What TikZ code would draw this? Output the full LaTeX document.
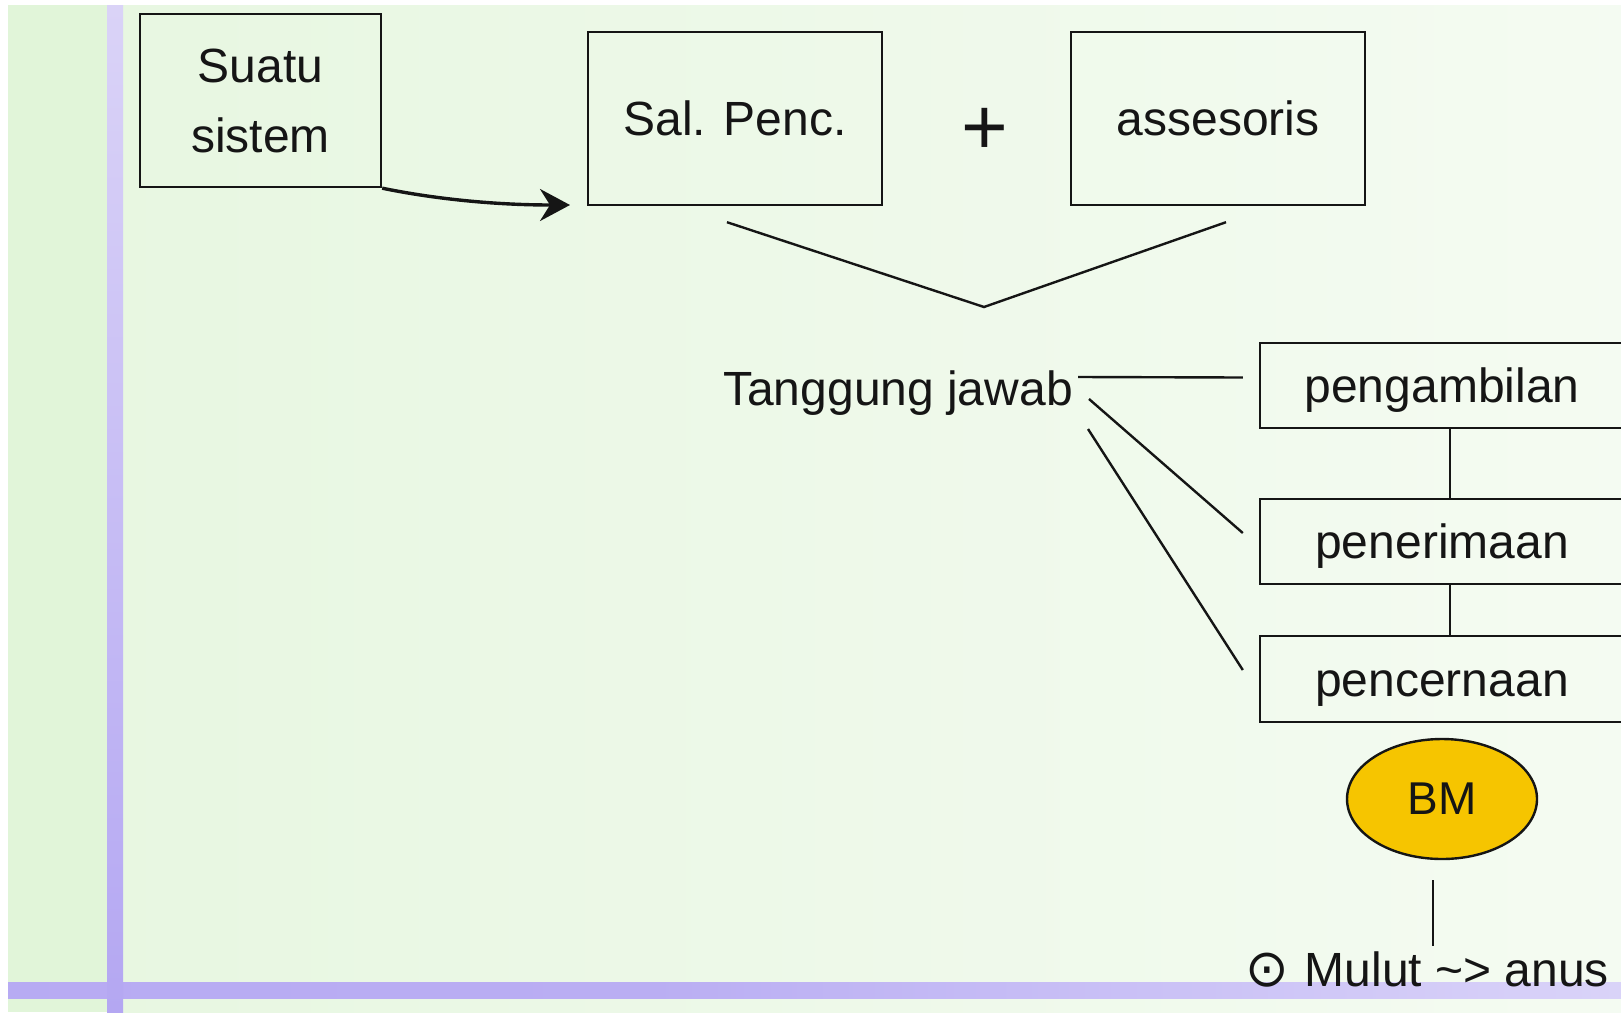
\documentclass[tikz,border=0pt]{standalone}
\usepackage{fontspec}
\setmainfont{Liberation Sans}
\newfontfamily\dejavu{DejaVu Sans}
\usetikzlibrary{shapes.geometric,arrows.meta}
\definecolor{bggreen}{HTML}{E1F5D9}
\definecolor{bgend}{HTML}{FBFDFA}
\definecolor{barA}{HTML}{B4A7F2}
\definecolor{barB}{HTML}{DAD3F7}
\definecolor{bmfill}{HTML}{F6C500}
\definecolor{ink}{HTML}{151515}
\pgfdeclarehorizontalshading{bgshade}{100bp}{color(0bp)=(bggreen); color(100bp)=(bgend)}
\pgfdeclarehorizontalshading{hbarshade}{100bp}{color(0bp)=(barA); color(45bp)=(barA!92!white); color(75bp)=(barA!50!white); color(100bp)=(white)}
\begin{document}
\begin{tikzpicture}[x=1pt,y=-1pt,
  every node/.style={font=\fontsize{48pt}{70pt}\selectfont, text=ink},
  boxbase/.style={draw=ink, line width=2.4pt, rectangle, inner sep=0pt},
  onebox/.style={boxbase, text height=34pt, text depth=0pt},
  link/.style={draw=ink, line width=2.4pt}]
\useasboundingbox (0,0) rectangle (1621,1012);
\clip (0,0) rectangle (1621,1012);
% background
\fill[white] (0,0) rectangle (1621,1012);
\fill[bggreen] (8,5) rectangle (123,1012);
\shade[shading=bgshade] (123,5) rectangle (1621,1012);
\shade[shading=hbarshade] (8,982) rectangle (1621,998);
\shade[top color=barB, bottom color=barA] (107,5) rectangle (123,1012);
% top boxes
\node[boxbase, minimum width=241pt, minimum height=173pt, align=center] (suatu) at (260.5,100.5) {Suatu\\sistem};
\node[onebox, minimum width=294pt, minimum height=173pt] (sal) at (735,118.5) {Sal. Penc.};
\node[onebox, minimum width=294pt, minimum height=173pt] (ass) at (1218,118.5) {assesoris};
\node[inner sep=0pt, font=\fontsize{80pt}{80pt}\selectfont] (plus) at (985,131) {+};
% arrow
\coordinate (arrtip) at (570,205);
\draw[link, line width=3.4pt, -{Stealth[length=30pt,width=32pt,inset=10pt]}] (suatu.south east) .. controls (440,200) and (500,205) .. (arrtip);
% V lines
\coordinate (vapex) at (984,307);
\draw[link] ([xshift=-8pt,yshift=-16pt]sal.south) -- (vapex) -- ([xshift=8pt,yshift=-16pt]ass.south);
% Tanggung jawab
\node[anchor=base, inner sep=0pt] (tj) at (898,405) {Tanggung jawab};
\node[onebox, minimum width=364pt, minimum height=85pt] (peng) at (1442,385.5) {pengambilan};
\node[onebox, minimum width=364pt, minimum height=85pt] (pener) at (1442,541.5) {penerimaan};
\node[onebox, minimum width=364pt, minimum height=86pt] (pencern) at (1442,679) {pencernaan};
\coordinate (t1) at (1078,377);
\coordinate (t2) at (1089,399);
\coordinate (t3) at (1088,429);
\draw[link] (t1) -- ([xshift=-16pt,yshift=8pt]peng.west);
\draw[link] (t2) -- ([xshift=-16pt,yshift=8.5pt]pener.west);
\draw[link] (t3) -- ([xshift=-16pt,yshift=9pt]pencern.west);
\draw[link] ([xshift=8pt]peng.south) -- ([xshift=8pt]pener.north);
\draw[link] ([xshift=8pt]pener.south) -- ([xshift=8pt]pencern.north);
% BM
\node[ellipse, draw=ink, line width=2.4pt, fill=bmfill, minimum width=190pt, minimum height=120pt, inner sep=0pt, font=\fontsize{46pt}{50pt}\selectfont] (bm) at (1442,799) {BM};
\draw[link] ([xshift=-9pt,yshift=-20pt]bm.south) -- ++(0,66);
\node[anchor=base west, inner sep=0pt] (mulut) at (1245,986) {{\dejavu\fontsize{52pt}{52pt}\selectfont ⊙}\hspace{16pt}Mulut \textasciitilde> anus};
\end{tikzpicture}
\end{document}
